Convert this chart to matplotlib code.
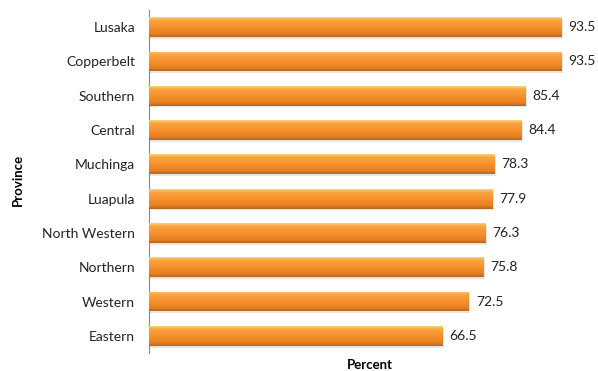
import numpy as np
import matplotlib.pyplot as plt
from matplotlib.colors import LinearSegmentedColormap

provinces = ["Lusaka", "Copperbelt", "Southern", "Central", "Muchinga",
             "Luapula", "North Western", "Northern", "Western", "Eastern"]
percent = [93.5, 93.5, 85.4, 84.4, 78.3, 77.9, 76.3, 75.8, 72.5, 66.5]

plt.rcParams['font.family'] = ['Lato', 'DejaVu Sans']

fig = plt.figure(figsize=(5.98, 3.71), dpi=100)
ax = fig.add_axes([149 / 598, 18 / 371, 441 / 598, 343 / 371])

n = len(provinces)
ypos = np.arange(n)[::-1]
h = 0.58

# light top edge, orange body, darker bottom edge
cmap = LinearSegmentedColormap.from_list(
    "bar", [(0.0, "#fcd37a"), (0.15, "#f9a441"), (0.5, "#f7912c"),
            (0.85, "#e57f22"), (1.0, "#b8641f")])
grad = np.linspace(0, 1, 64).reshape(-1, 1)

for y, v in zip(ypos, percent):
    # soft shadow
    ax.barh(y - 0.05, v + 0.2, height=h, left=0.2, color="#e6e6e6", zorder=1)
    bar = ax.barh(y, v, height=h, color="none", zorder=2)[0]
    im = ax.imshow(grad, cmap=cmap, aspect="auto", zorder=3,
                   extent=(0, v, y - h / 2, y + h / 2))
    im.set_clip_path(bar)
    ax.text(v + 1.6, y, f"{v:.1f}", va="center", ha="left", fontsize=10,
            color="#222222")

ax.set_xlim(0, 100)
ax.set_ylim(-0.5, n - 0.5)
ax.set_yticks(ypos)
ax.set_yticklabels(provinces, fontsize=10, color="#222222")
ax.set_xticks([])
ax.tick_params(axis="y", length=0, pad=10)
for s in ["top", "right", "bottom"]:
    ax.spines[s].set_visible(False)
ax.spines["left"].set_color("#888888")
ax.spines["left"].set_linewidth(0.8)

ax.set_xlabel("Percent", fontsize=9.5, fontweight="bold", labelpad=4)
fig.text(18 / 598, 1 - 180 / 371, "Province", rotation=90, fontsize=9.5,
         fontweight="bold", ha="center", va="center")

fig.savefig("out.png", dpi=100)
